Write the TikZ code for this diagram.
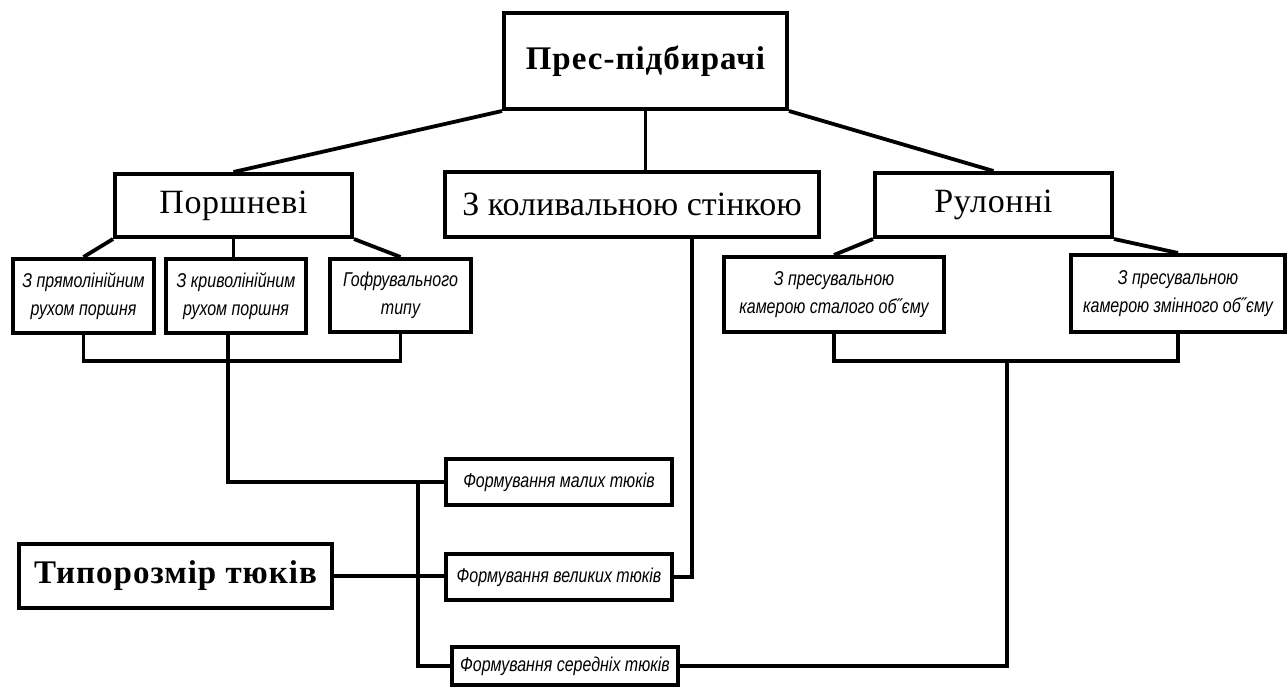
\documentclass[tikz,border=0pt]{standalone}
\usepackage{fontspec}
\setmainfont{Liberation Serif}
\newfontfamily\gost[FakeStretch=0.8]{Liberation Sans}
\usetikzlibrary{calc}
\tikzset{
  box/.style={draw, line width=4pt, inner sep=0pt, align=center},
  lvl/.style={box, font=\fontsize{34}{40}\selectfont},
  head/.style={box, font=\bfseries\fontsize{33}{40}\selectfont},
  small/.style={box, font=\gost\itshape\fontsize{20}{28}\selectfont},
  conn/.style={line width=3.8pt, line join=miter},
}
\begin{document}
\begin{tikzpicture}[x=1pt,y=-1pt]
\useasboundingbox (0,0) rectangle (1288,687);
% top
\node[head, minimum width=283, minimum height=96] (top) at (645.5,61) {\addfontfeature{LetterSpace=3}Прес-підбирачі};
% level 2
\node[lvl, minimum width=237, minimum height=63] (porsh) at (233.5,205.5) {\addfontfeature{LetterSpace=2}Поршневі};
\node[lvl, minimum width=374, minimum height=65] (kol) at (632,204.5) {З коливальною стінкою};
\node[lvl, minimum width=237, minimum height=64] (rul) at (993.5,205) {\addfontfeature{LetterSpace=2}Рулонні};
% level 3
\node[small, minimum width=141, minimum height=74] (b1) at (83.5,296) {З прямолінійним\\рухом поршня};
\node[small, minimum width=140, minimum height=74] (b2) at (236,296) {З криволінійним\\рухом поршня};
\node[small, minimum width=141, minimum height=73] (b3) at (400.5,295.5) {Гофрувального\\типу};
\node[small, minimum width=220, minimum height=75] (r1) at (834,294.5) {З пресувальною\\камерою сталого об˝єму};
\node[small, minimum width=214, minimum height=77] (r2) at (1178,293.5) {З пресувальною\\камерою змінного об˝єму};
% bale boxes
\node[small, minimum width=226, minimum height=46] (malih) at (559,482) {Формування малих тюків};
\node[small, minimum width=226, minimum height=46] (vel) at (559,577) {Формування великих тюків};
\node[small, minimum width=226, minimum height=38] (ser) at (565,666) {Формування середніх тюків};
\node[head, minimum width=313, minimum height=64] (typ) at (175.5,576) {\addfontfeature{LetterSpace=3}Типорозмір тюків};
% connectors from top
\draw[conn] (top.south west) -- (porsh.north);
\draw[conn] (top.south) -- (top.south |- kol.north);
\draw[conn] (top.south east) -- (rul.north);
% level 2 to level 3
\draw[conn] (porsh.south west) -- (b1.north);
\draw[conn] (porsh.south) -- (porsh.south |- b2.north);
\draw[conn] (porsh.south east) -- (b3.north);
\draw[conn] (rul.south west) -- (r1.north);
\draw[conn] (rul.south east) -- (r2.north);
% brackets
\draw[conn] (b1.south) -- ++(0,26) -| (b3.south);
\draw[conn] ($(b2.south)+(-8,0)$) |- (malih.west);
\coordinate (sp) at (418,482);
\draw[conn] (sp) |- (ser.west);
\draw[conn] (typ.east) -- (typ.east -| vel.west);
\draw[conn] ($(kol.south)+(60,0)$) |- (vel.east);
\draw[conn] (r1.south) -- ++(0,27) -| (r2.south);
\coordinate (rj) at (1007,359);
\draw[conn] (rj) |- (ser.east);
\end{tikzpicture}
\end{document}
